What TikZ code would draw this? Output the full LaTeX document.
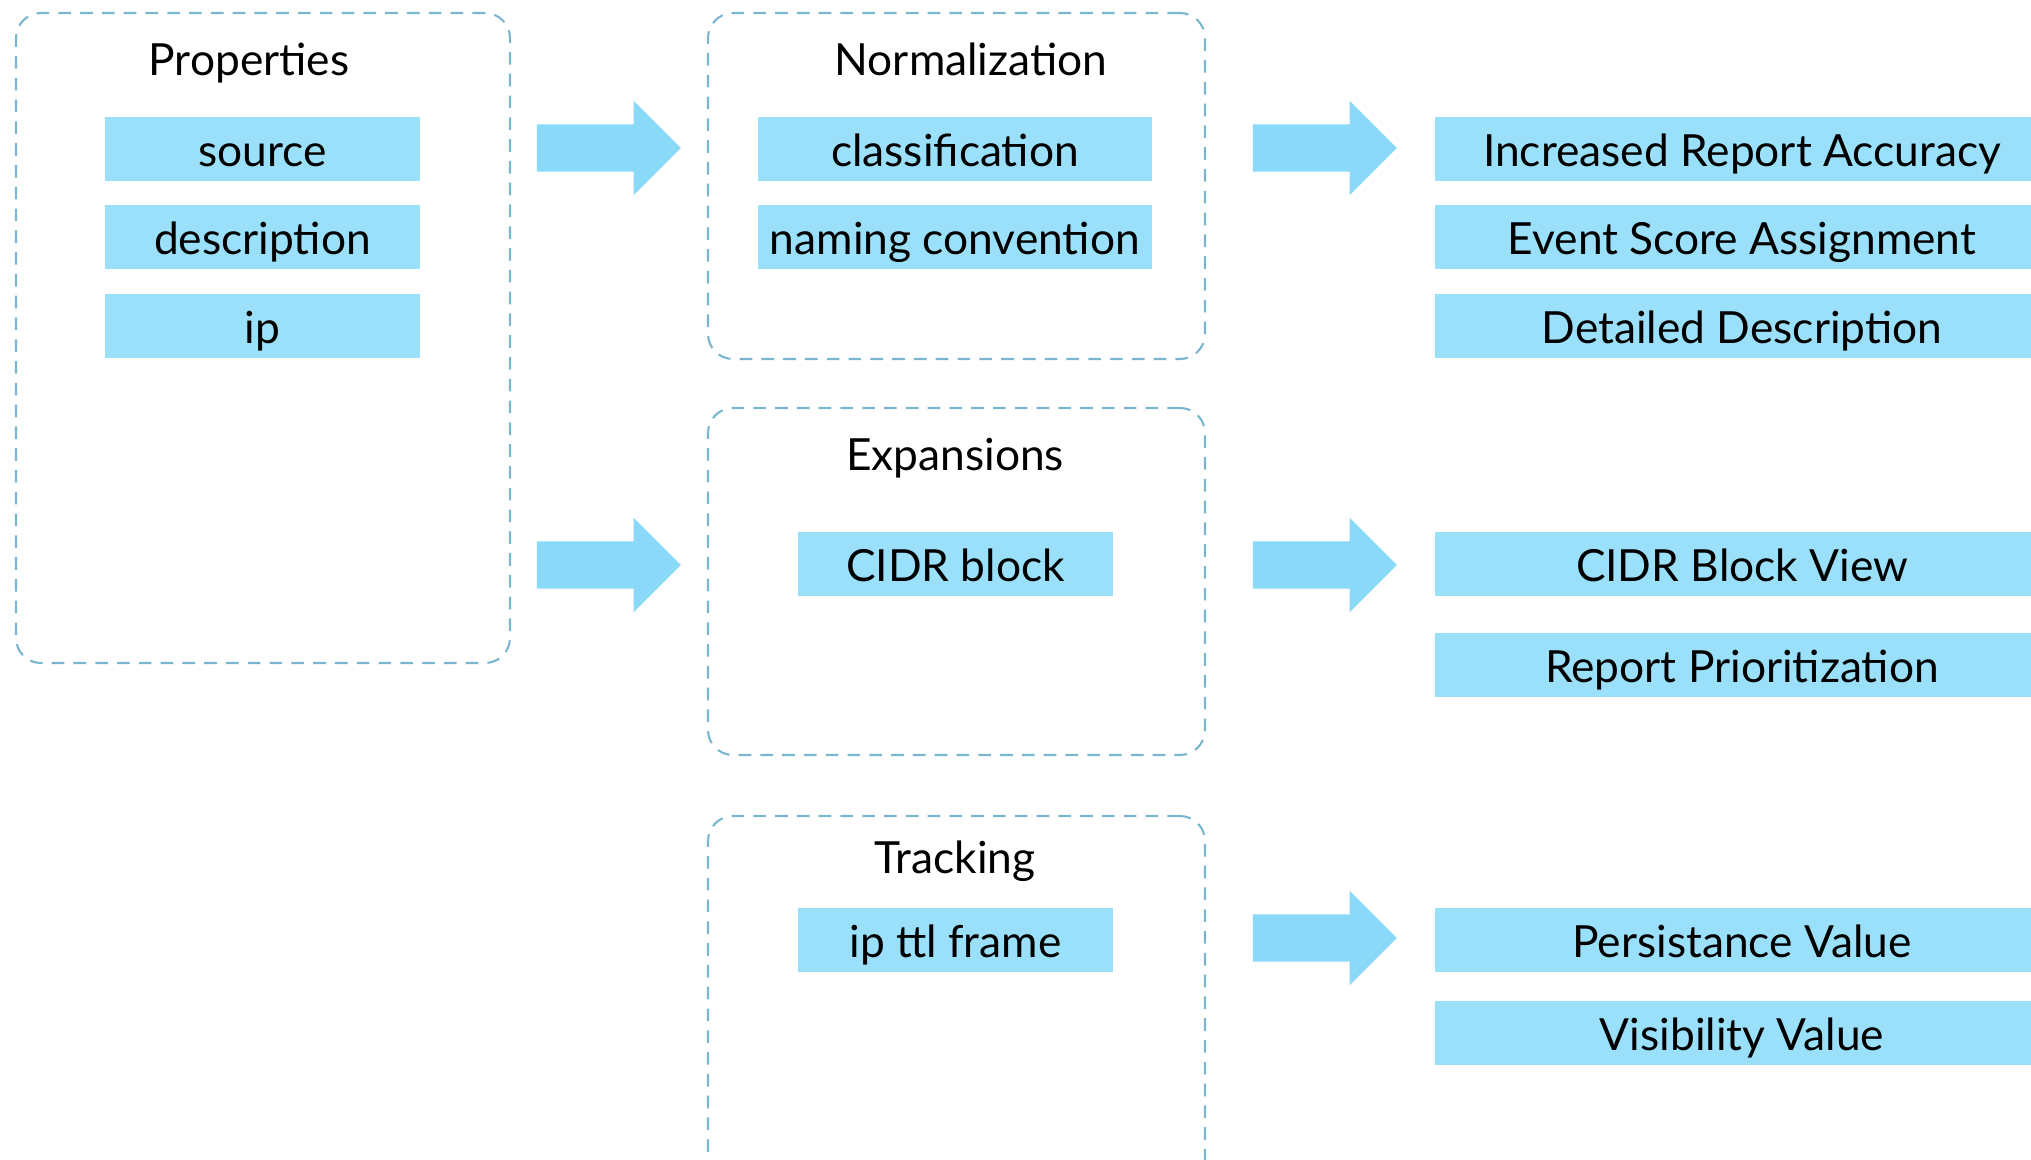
\documentclass[tikz,border=0pt]{standalone}
\usepackage{fontspec}
\setmainfont{Lato}
\usetikzlibrary{shapes.arrows}

\definecolor{itemblue}{RGB}{155,224,250}
\definecolor{arrowblue}{RGB}{138,217,248}
\definecolor{frameblue}{RGB}{122,182,208}

\begin{document}
\begin{tikzpicture}[
		font=\fontsize{12.6}{15}\selectfont,
		group/.style={draw=frameblue,line width=0.6pt,dash pattern=on 3.6pt off 2.6pt,rounded corners=0.25cm,inner sep=0},
		title/.style={inner sep=0,text height=2.3ex,text depth=0.3ex},
		item/.style={fill=itemblue,inner sep=0,minimum height=0.64cm,text height=2.3ex,text depth=0.3ex},
		flow/.style={single arrow,fill=arrowblue,inner sep=0,inner ysep=0.23cm,minimum height=1.44cm,single arrow head extend=0.235cm}
	]
		% Page frame
		\useasboundingbox (0,0) rectangle (20.31,-11.60);
		\clip (0,0) rectangle (20.31,-11.60);
		
		% Dashed groups
		\node[group,minimum width=4.94cm,minimum height=6.50cm] (props) at (2.63,-3.38) {};
		\node[group,minimum width=4.97cm,minimum height=3.46cm] (norm) at (9.565,-1.86) {};
		\node[group,minimum width=4.97cm,minimum height=3.47cm] (expa) at (9.565,-5.815) {};
		\node[group,minimum width=4.97cm,minimum height=3.80cm] (track) at (9.565,-10.06) {};
		
		% Group titles
		\node[title] (propsT) at (2.49,-0.58) {Properties};
		\node[title] (normT) at (9.71,-0.58) {Normalization};
		\node[title] (expaT) at (9.55,-4.53) {Expansions};
		\node[title] (trackT) at (9.55,-8.56) {Tracking};
		
		% Properties items
		\node[item,minimum width=3.15cm] (source) at (2.625,-1.49) {source};
		\node[item,minimum width=3.15cm] (descr) at (2.625,-2.37) {description};
		\node[item,minimum width=3.15cm] (ip) at (2.625,-3.255) {ip};
		
		% Middle items
		\node[item,minimum width=3.94cm] (classif) at (9.55,-1.49) {classification};
		\node[item,minimum width=3.94cm] (naming) at (9.55,-2.37) {naming convention};
		\node[item,minimum width=3.15cm] (cidr) at (9.555,-5.635) {CIDR block};
		\node[item,minimum width=3.15cm] (ttl) at (9.555,-9.395) {ip ttl frame};
		
		% Results
		\node[item,minimum width=6.14cm] (accuracy) at (17.42,-1.49) {Increased Report Accuracy};
		\node[item,minimum width=6.14cm] (score) at (17.42,-2.37) {Event Score Assignment};
		\node[item,minimum width=6.14cm] (detail) at (17.42,-3.255) {Detailed Description};
		\node[item,minimum width=6.14cm] (cidrview) at (17.42,-5.635) {CIDR Block View};
		\node[item,minimum width=6.14cm] (priority) at (17.42,-6.645) {Report Prioritization};
		\node[item,minimum width=6.14cm] (persist) at (17.42,-9.395) {Persistance Value};
		\node[item,minimum width=6.14cm] (visible) at (17.42,-10.325) {Visibility Value};
		
		% Block arrows
		\node[flow] (flowA) at (5.97,-1.48) {};
		\node[flow] (flowB) at (5.97,-5.65) {};
		\node[flow] (flowC) at (13.13,-1.48) {};
		\node[flow] (flowD) at (13.13,-5.65) {};
		\node[flow] (flowE) at (13.13,-9.38) {};
		
\end{tikzpicture}
\end{document}
